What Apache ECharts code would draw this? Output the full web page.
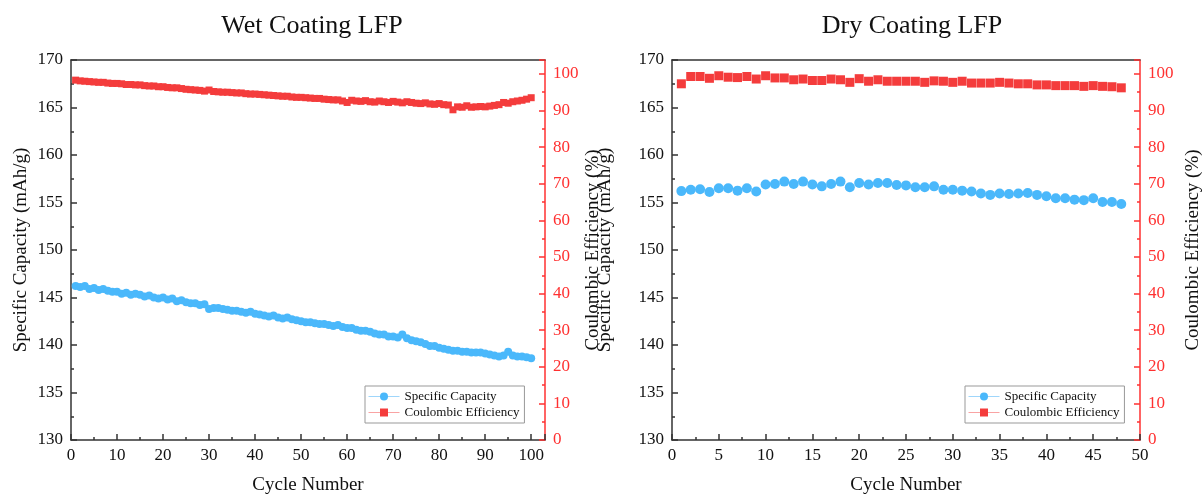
<!DOCTYPE html>
<html><head><meta charset="utf-8">
<script src="https://cdn.jsdelivr.net/npm/echarts@6/dist/echarts.min.js"></script>
<style>html,body{margin:0;padding:0;background:#fff}#c{width:1204px;height:500px}</style>
</head><body><div id="c"></div>
<script>
const titles = ['Wet Coating LFP', 'Dry Coating LFP'];
const seriesNames = ['Specific Capacity', 'Coulombic Efficiency'];
// Wet coating, cycles 1..100
const wetCapacity = [
146.2,146.1,146.2,145.9,146.0,145.8,145.9,145.7,145.6,145.6,
145.4,145.5,145.3,145.4,145.3,145.1,145.2,145.0,144.9,145.0,
144.8,144.9,144.6,144.7,144.5,144.4,144.4,144.2,144.3,143.8,
143.9,143.9,143.8,143.7,143.6,143.6,143.5,143.4,143.5,143.3,
143.2,143.1,143.0,143.1,142.9,142.8,142.9,142.7,142.6,142.5,
142.4,142.4,142.3,142.2,142.2,142.1,142.0,142.1,141.9,141.8,
141.8,141.6,141.5,141.5,141.4,141.2,141.1,141.1,140.9,140.9,
140.8,141.1,140.7,140.5,140.4,140.3,140.1,139.9,139.9,139.7,
139.6,139.5,139.4,139.4,139.3,139.3,139.2,139.2,139.2,139.1,
139.0,138.9,138.8,138.9,139.3,138.9,138.8,138.8,138.7,138.6];
const wetCE = [
98.3,98.1,98.0,97.9,97.8,97.7,97.7,97.5,97.4,97.4,
97.3,97.1,97.1,97.0,97.0,96.8,96.7,96.7,96.5,96.5,
96.3,96.2,96.2,96.0,95.8,95.7,95.6,95.5,95.3,95.6,
95.2,95.1,95.0,95.0,94.9,94.8,94.8,94.6,94.5,94.5,
94.4,94.3,94.2,94.1,94.0,93.9,93.9,93.7,93.6,93.6,
93.5,93.4,93.3,93.3,93.1,93.0,92.9,92.9,92.6,92.2,
92.8,92.6,92.5,92.7,92.4,92.3,92.6,92.4,92.2,92.5,
92.3,92.1,92.4,92.2,92.0,91.9,92.1,91.8,91.7,91.9,
91.6,91.5,90.2,91.0,90.9,91.3,90.9,91.0,91.1,91.0,
91.2,91.4,91.6,92.2,92.0,92.4,92.6,92.8,93.1,93.5];
// Dry coating, cycles 1..48
const dryCapacity = [
156.2,156.35,156.4,156.1,156.5,156.5,156.25,156.5,156.15,156.9,
156.95,157.2,156.95,157.2,156.9,156.7,156.95,157.2,156.6,157.05,
156.9,157.05,157.05,156.85,156.8,156.6,156.6,156.7,156.35,156.35,
156.25,156.15,155.95,155.8,155.95,155.9,155.95,156.0,155.8,155.65,
155.45,155.45,155.3,155.25,155.45,155.05,155.05,154.85];
const dryCE = [
97.3,99.3,99.3,98.8,99.5,99.1,99.0,99.3,98.6,99.5,
98.9,98.9,98.4,98.6,98.2,98.2,98.6,98.4,97.7,98.7,
98.0,98.4,98.0,98.0,98.0,98.0,97.7,98.1,98.0,97.7,
98.0,97.5,97.5,97.5,97.7,97.5,97.3,97.3,97.0,97.0,
96.8,96.8,96.8,96.6,96.8,96.6,96.5,96.2];
const capTicks = {min:130, max:170, interval:5};
const ceTicks = {min:0, max:103.8, interval:10};
const xWet = {min:0, max:103, interval:10};
const xDry = {min:0, max:50, interval:5};

const FONT = 'Liberation Serif';
const BLUE = '#4ab8fb', RED = '#f43c3c', AXRED = '#ff3030', AX = '#333';
const toPts = arr => arr.map((v, i) => [i + 1, v]);

const grids = [
  {left:71, right:659, top:60, bottom:57},
  {left:672, right:58, top:60, bottom:57}
];
const xRanges = [xWet, xDry];
const leftGaps = [40, 57], rightGaps = [39, 44];
const legendLefts = [365, 965];

const option = {
  animation:false,
  title: titles.map((t, i) => ({text:t, left: i === 0 ? 307 : 907, top:8, textAlign:'center',
    textStyle:{fontFamily:FONT, fontSize:26, fontWeight:'normal', color:'#111'}})),
  grid: grids,
  legend: legendLefts.map(l => ({
    orient:'vertical', left:l, top:386, padding:[4,5,4,3], itemGap:3, itemWidth:31, itemHeight:10,
    borderColor:'#999', borderWidth:1, backgroundColor:'#fff',
    textStyle:{fontFamily:FONT, fontSize:13, color:'#111'},
    lineStyle:{width:1, opacity:1},
    data:[
      {name:seriesNames[0], lineStyle:{color:'#9fd6fb', width:1, opacity:1}},
      {name:seriesNames[1], lineStyle:{color:'#f9a3a3', width:1, opacity:1}}
    ]
  })),
  xAxis: [],
  yAxis: [],
  series: []
};

[0,1].forEach(g => {
  const xr = xRanges[g];
  option.xAxis.push({
    type:'value', gridIndex:g, min:xr.min, max:xr.max, interval:xr.interval,
    name:'Cycle Number', nameLocation:'middle', nameGap:36,
    nameTextStyle:{fontFamily:FONT, fontSize:19, color:'#111'},
    axisLine:{onZero:false, lineStyle:{color:AX, width:1.5}},
    axisTick:{inside:true, length:6, lineStyle:{color:AX, width:1.5}},
    minorTick:{show:true, splitNumber:2, length:3, lineStyle:{color:AX, width:1.5}},
    axisLabel:{fontFamily:FONT, fontSize:17, color:'#111', margin:7,
      formatter: v => (Math.abs(v % xr.interval) < 1e-9 ? String(v) : '')},
    splitLine:{show:false}
  });
  option.xAxis.push({
    type:'value', gridIndex:g, position:'top', min:xr.min, max:xr.max,
    axisLine:{onZero:false, lineStyle:{color:AX, width:1.5}}, axisTick:{show:false},
    axisLabel:{show:false}, splitLine:{show:false}
  });
  option.yAxis.push({
    type:'value', gridIndex:g, position:'left', min:capTicks.min, max:capTicks.max, interval:capTicks.interval,
    name:'Specific Capacity (mAh/g)', nameLocation:'middle', nameGap:leftGaps[g], nameRotate:90,
    nameTextStyle:{fontFamily:FONT, fontSize:19, color:'#111'},
    axisLine:{show:true, onZero:false, lineStyle:{color:AX, width:1.5}},
    axisTick:{inside:true, length:6, lineStyle:{color:AX, width:1.5}},
    minorTick:{show:true, splitNumber:2, length:3, lineStyle:{color:AX, width:1.5}},
    axisLabel:{fontFamily:FONT, fontSize:17, color:'#111', margin:8},
    splitLine:{show:false}
  });
  option.yAxis.push({
    type:'value', gridIndex:g, position:'right', min:ceTicks.min, max:ceTicks.max, interval:ceTicks.interval,
    name:'Coulombic Efficiency (%)', nameLocation:'middle', nameGap:rightGaps[g], nameRotate:90,
    nameTextStyle:{fontFamily:FONT, fontSize:19, color:'#111'},
    axisLine:{show:true, onZero:false, lineStyle:{color:AXRED, width:1.5}},
    axisTick:{inside:true, length:6, lineStyle:{color:AXRED, width:1.5}},
    minorTick:{show:true, splitNumber:2, length:3, lineStyle:{color:AXRED, width:1.5}},
    axisLabel:{fontFamily:FONT, fontSize:17, color:AXRED, margin:8,
      formatter: v => (Math.abs(v % ceTicks.interval) < 1e-9 ? String(v) : '')},
    splitLine:{show:false}
  });
});

const dataSets = [[wetCapacity, wetCE], [dryCapacity, dryCE]];
const symSizes = [[8, 7], [10, 9]];
[0,1].forEach(g => {
  option.series.push({
    name:seriesNames[0], type:'line', xAxisIndex:g*2, yAxisIndex:g*2,
    data:toPts(dataSets[g][0]), symbol:'circle', symbolSize:symSizes[g][0], showAllSymbol:true,
    itemStyle:{color:BLUE}, lineStyle:{opacity:0, width:0}, z:3
  });
  option.series.push({
    name:seriesNames[1], type:'line', xAxisIndex:g*2, yAxisIndex:g*2+1,
    data:toPts(dataSets[g][1]), symbol:'rect', symbolSize:symSizes[g][1], showAllSymbol:true,
    itemStyle:{color:RED}, lineStyle:{opacity:0, width:0}, z:3
  });
});

const chart = echarts.init(document.getElementById('c'), null, {renderer:'canvas'});
chart.setOption(option);
</script></body></html>
